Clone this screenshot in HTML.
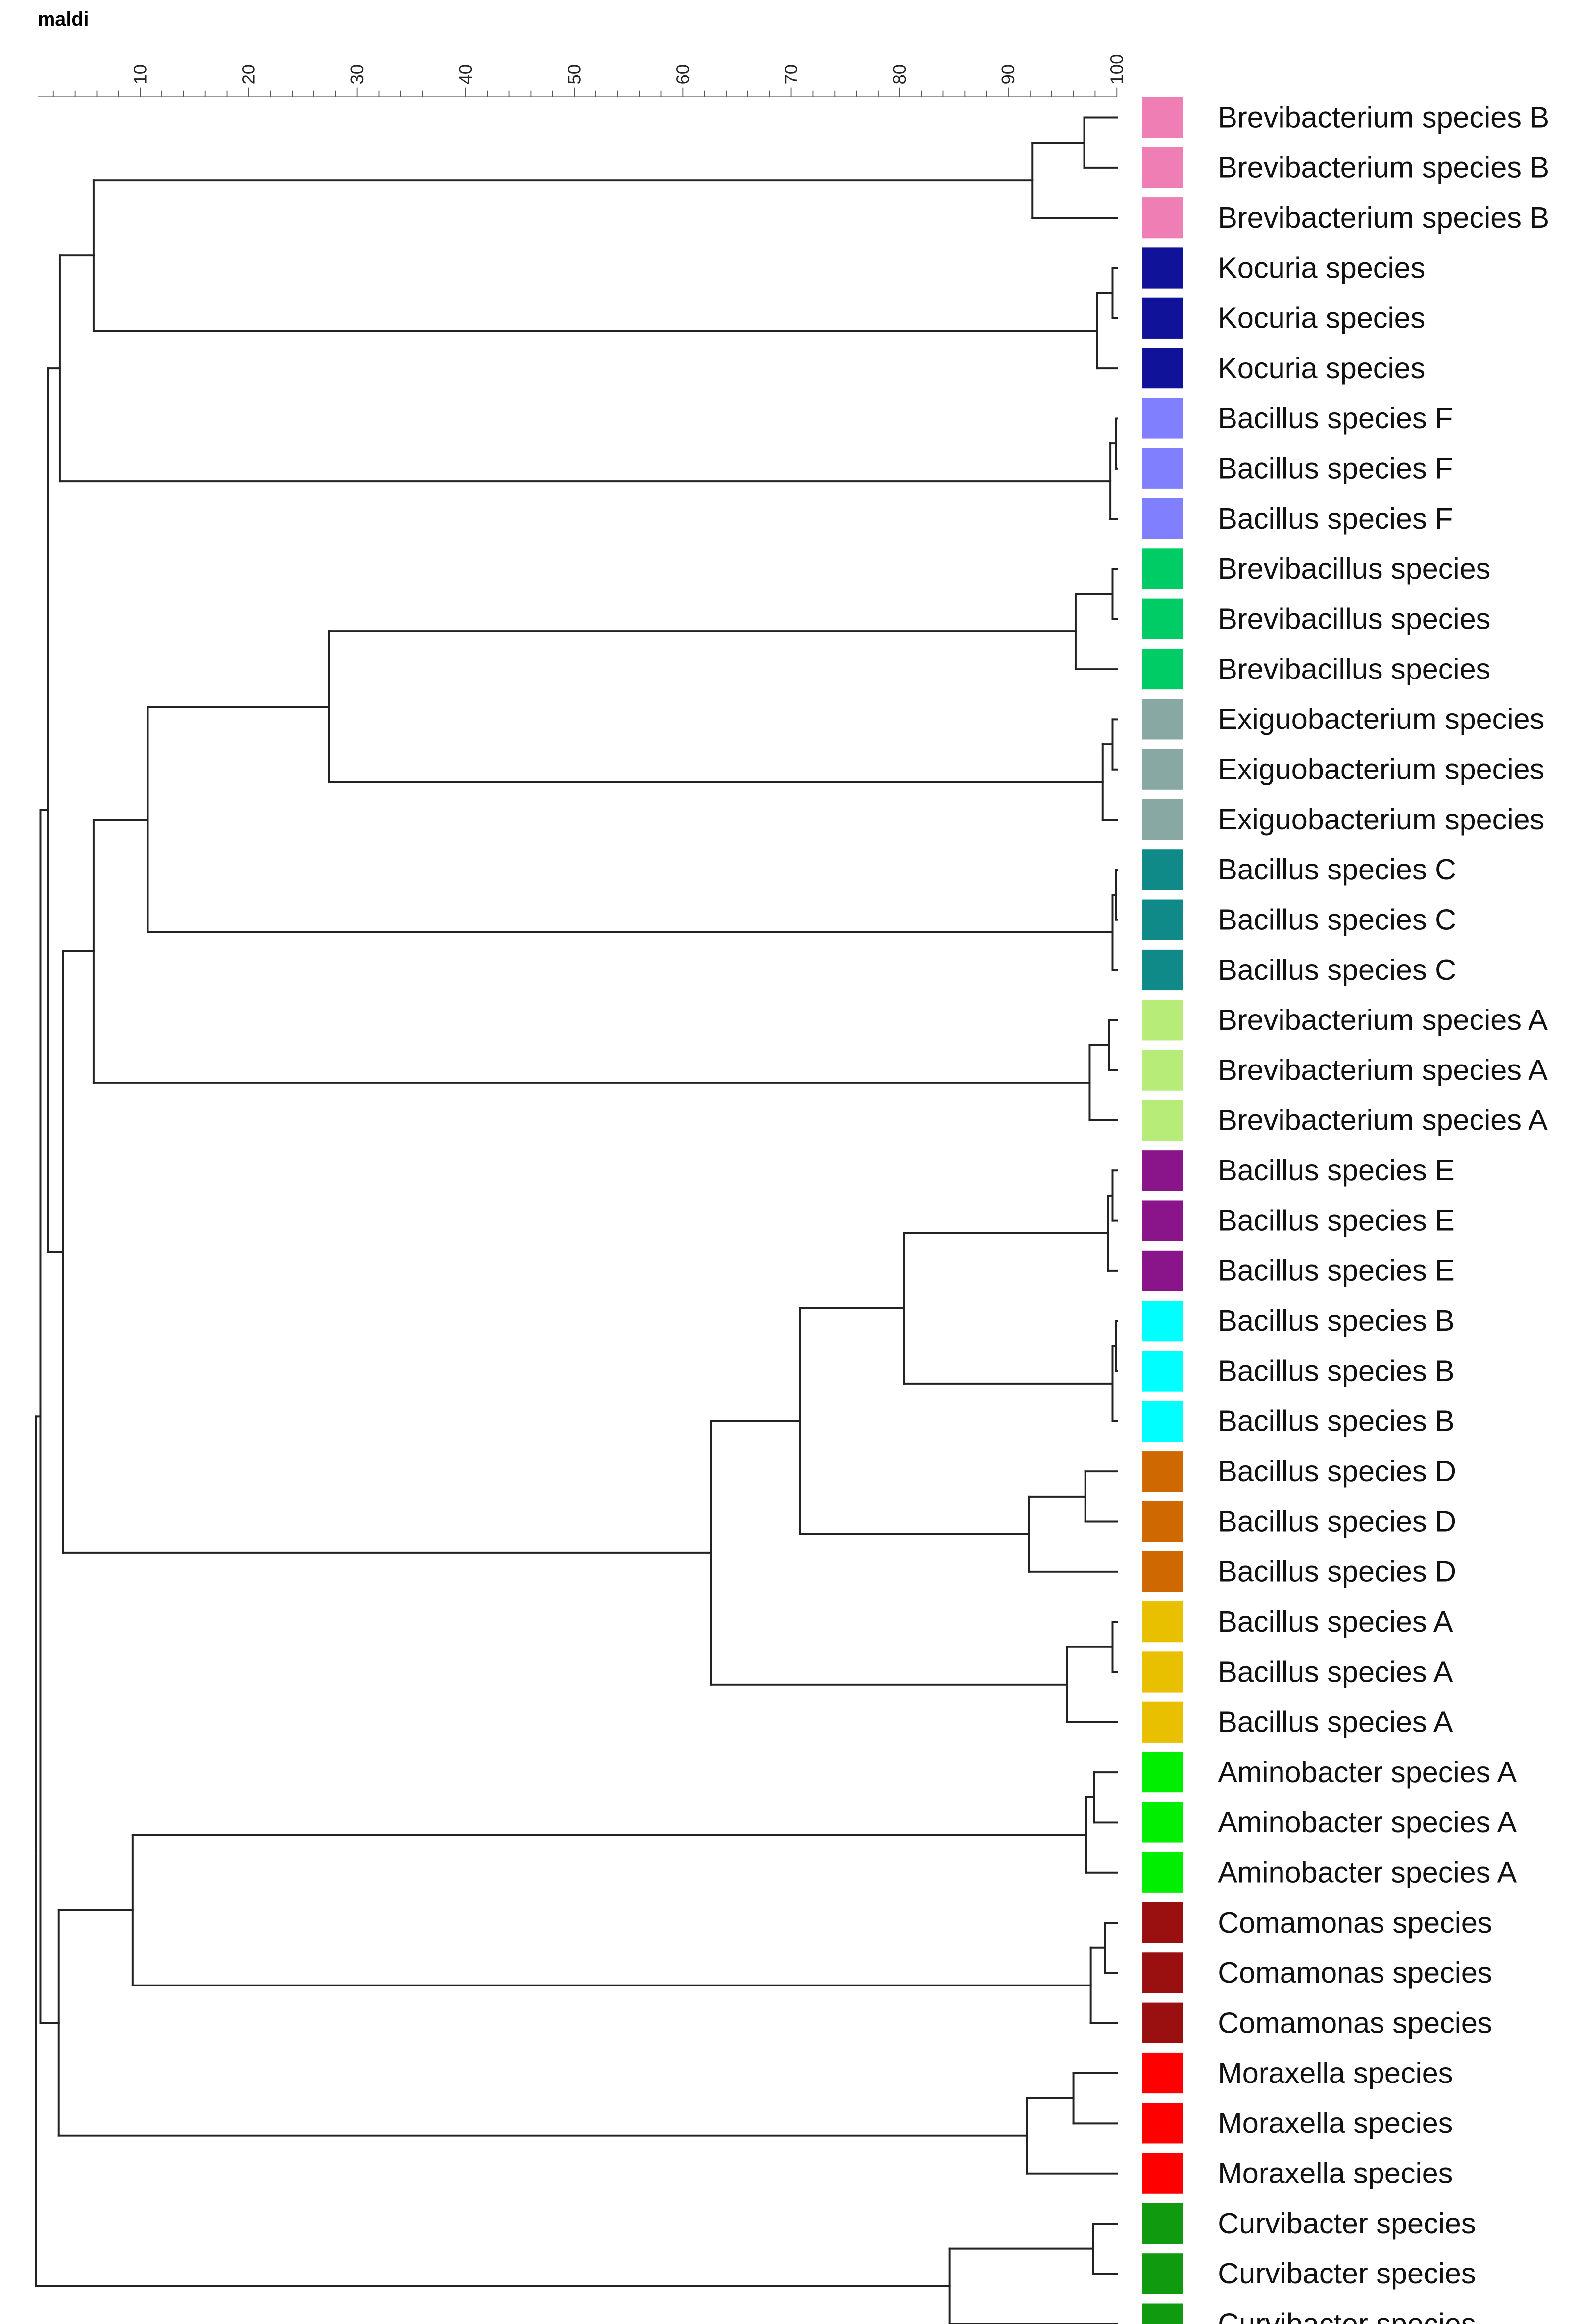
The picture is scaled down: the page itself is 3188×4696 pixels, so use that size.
<!DOCTYPE html>
<html><head><meta charset="utf-8"><style>
html,body{margin:0;padding:0;background:#fff;}
svg{display:block;}
text{font-family:"Liberation Sans",Arial,sans-serif;}
</style></head><body>
<svg id="chart" width="3188" height="4696" viewBox="0 0 1047 1542" preserveAspectRatio="none" xmlns="http://www.w3.org/2000/svg">
<text x="25" y="17" font-size="13" font-weight="bold">maldi</text>
<g id="axis"></g>
<g id="tree"></g>
<g id="leaves"></g>
</svg>
<script>
const labels = ["Brevibacterium species B","Brevibacterium species B","Brevibacterium species B","Kocuria species","Kocuria species","Kocuria species","Bacillus species F","Bacillus species F","Bacillus species F","Brevibacillus species","Brevibacillus species","Brevibacillus species","Exiguobacterium species","Exiguobacterium species","Exiguobacterium species","Bacillus species C","Bacillus species C","Bacillus species C","Brevibacterium species A","Brevibacterium species A","Brevibacterium species A","Bacillus species E","Bacillus species E","Bacillus species E","Bacillus species B","Bacillus species B","Bacillus species B","Bacillus species D","Bacillus species D","Bacillus species D","Bacillus species A","Bacillus species A","Bacillus species A","Aminobacter species A","Aminobacter species A","Aminobacter species A","Comamonas species","Comamonas species","Comamonas species","Moraxella species","Moraxella species","Moraxella species","Curvibacter species","Curvibacter species","Curvibacter species"];
const groupColors = ["#ee7eb4","#10129a","#8080ff","#00cc66","#88a8a4","#108a88","#b8ec78","#8a148a","#00ffff","#d06800","#e8c000","#00ee00","#9a1010","#ff0000","#109a10"];
const tickValues = [10,20,30,40,50,60,70,80,90,100];
const minorTicks = [2,4,6,8,10,12,14,16,18,20,22,24,26,28,30,32,34,36,38,40,42,44,46,48,50,52,54,56,58,60,62,64,66,68,70,72,74,76,78,80,82,84,86,88,90,92,94,96,98,100];
// tree: [similarity, left, right]; leaves are indices
const treeData =
[0.4,
  [0.8,
    [1.5,
      [2.6,
        [5.7, [92.2,[97.0,0,1],2], [98.2,[99.6,3,4],5]],
        [99.4,[99.9,6,7],8]
      ],
      [2.9,
        [5.7,
          [10.7,
            [27.4, [96.2,[99.6,9,10],11], [98.7,[99.6,12,13],14]],
            [99.6,[99.9,15,16],17]
          ],
          [97.5,[99.3,18,19],20]
        ],
        [62.6,
          [70.8,
            [80.4, [99.2,[99.6,21,22],23], [99.6,[99.9,24,25],26]],
            [91.9,[97.1,27,28],29]
          ],
          [95.4,[99.6,30,31],32]
        ]
      ]
    ],
    [2.5,
      [9.3, [97.2,[97.9,33,34],35], [97.6,[98.9,36,37],38]],
      [91.7,[96.0,39,40],41]
    ]
  ],
  [84.6,[97.8,42,43],44]
];
const NS='http://www.w3.org/2000/svg';
function xs(v){return 21+7.2*v;}
function ys(i){return 78+i*33.27;}
function el(tag,attrs,parent){const e=document.createElementNS(NS,tag);for(const k in attrs)e.setAttribute(k,attrs[k]);parent.appendChild(e);return e;}
const axis=document.getElementById('axis');
let a=el('line',{x1:25,y1:64,x2:xs(100),y2:64,stroke:'#999','stroke-width':1.2},axis);


minorTicks.forEach(v=>{
  const major=tickValues.indexOf(v)>=0;
  const t=el('line',{x1:xs(v),y1:major?58:60,x2:xs(v),y2:64,stroke:'#555','stroke-width':0.6},axis);
  
  
});
tickValues.forEach(v=>{
  const t=el('text',{x:0,y:0,'font-size':12,fill:'#222',transform:`translate(${xs(v)+4},56) rotate(-90)`},axis);
  t.textContent=String(v);
  
  
});
const tree=document.getElementById('tree');
function line(x1,y1,x2,y2){
  const l=el('line',{x1,y1,x2,y2,stroke:'#222','stroke-width':1.3,'stroke-linecap':'square'},tree);
  
  
}
function draw(n){
  if(typeof n==='number')return {x:xs(100),y:ys(n)};
  const L=draw(n[1]),R=draw(n[2]);const x=xs(n[0]);
  line(x,L.y,L.x,L.y);line(x,R.y,R.x,R.y);line(x,L.y,x,R.y);
  return {x:x,y:(L.y+R.y)/2};
}
const root=draw(treeData);
line(24,root.y,xs(treeData[0]),root.y);
const leaves=document.getElementById('leaves');
labels.forEach((lab,i)=>{
  const r=el('rect',{x:758,y:ys(i)-13.5,width:27,height:27,fill:groupColors[Math.floor(i/3)]},leaves);
  
  
  const t=el('text',{x:808,y:ys(i)+6.5,'font-size':19.5,fill:'#111'},leaves);
  t.textContent=lab;
  
  
});
</script>
</body></html>
